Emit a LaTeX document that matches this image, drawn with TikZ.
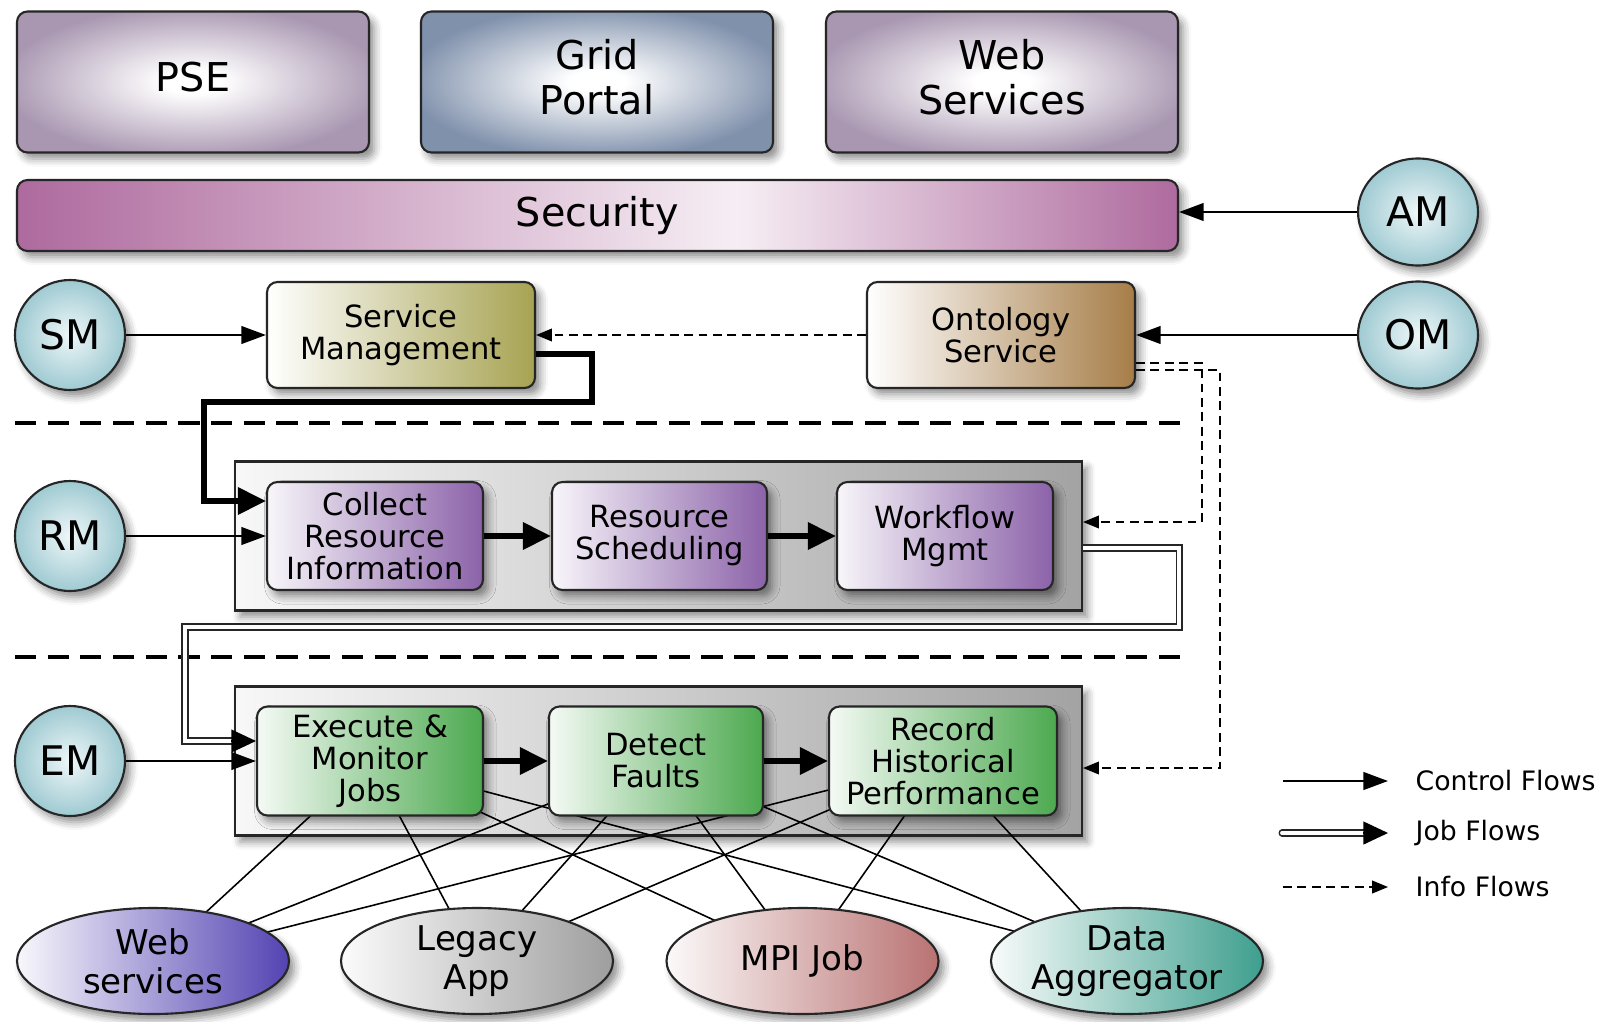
\documentclass[tikz,border=0pt]{standalone}
\usepackage{fontspec}
\setmainfont{DejaVu Sans}
\usetikzlibrary{arrows.meta,shapes.geometric,shadows.blur}

\definecolor{pseout}{HTML}{A997B1}
\definecolor{gridout}{HTML}{8091AC}
\definecolor{secend}{HTML}{AE6A9E}
\definecolor{secmid}{HTML}{F6EEF4}
\definecolor{mgrin}{HTML}{EEF7F8}
\definecolor{mgrout}{HTML}{9FCAD2}
\definecolor{svcend}{HTML}{A7A352}
\definecolor{ontoend}{HTML}{A67D47}
\definecolor{rmend}{HTML}{8B62A9}
\definecolor{emend}{HTML}{4CA94F}
\definecolor{laneend}{HTML}{A3A3A3}
\definecolor{wsend}{HTML}{5343B2}
\definecolor{legacyend}{HTML}{9E9E9E}
\definecolor{mpiend}{HTML}{B97272}
\definecolor{aggend}{HTML}{3E9F8E}

\pgfdeclareradialshading{pseglow}{\pgfpoint{0bp}{0bp}}{color(0bp)=(white);
  color(4bp)=(white); color(27bp)=(pseout); color(50bp)=(pseout)}
\pgfdeclareradialshading{gridglow}{\pgfpoint{0bp}{0bp}}{color(0bp)=(white);
  color(4bp)=(white); color(27bp)=(gridout); color(50bp)=(gridout)}
\pgfdeclarehorizontalshading{secshade}{100bp}{color(0bp)=(secend);
  color(25bp)=(secend); color(56bp)=(secmid); color(75bp)=(secend);
  color(100bp)=(secend)}

\newcommand\topfnt{\fontsize{11.3}{12.8}\selectfont}
\newcommand\boxfnt{\fontsize{8.7}{9.1}\selectfont}
\newcommand\appfnt{\fontsize{9.7}{11.1}\selectfont}
\newcommand\mgrfnt{\fontsize{11.6}{13}\selectfont}
\newcommand\keyfnt{\fontsize{7.6}{9}\selectfont}

\begin{document}
\begin{tikzpicture}[
  softshadow/.style={blur shadow={shadow xshift=1.5pt,shadow yshift=-1.8pt,
      shadow blur radius=2.2pt,shadow opacity=45}},
  topbox/.style={draw=black!85,line width=.6pt,rounded corners=3pt,
      minimum width=3.52cm,minimum height=1.41cm,align=center,font=\topfnt,
      text depth=.1cm,shade,softshadow},
  secbar/.style={draw=black!85,line width=.6pt,rounded corners=3pt,
      minimum width=11.61cm,minimum height=.71cm,font=\topfnt,
      shade,shading=secshade,softshadow},
  mgr/.style={ellipse,draw=black!85,line width=.6pt,inner sep=0pt,
      minimum width=1.10cm,minimum height=1.10cm,font=\mgrfnt,
      inner color=mgrin,outer color=mgrout,softshadow},
  svcbox/.style={draw=black!85,line width=.6pt,rounded corners=3pt,
      minimum width=2.68cm,minimum height=1.06cm,align=center,font=\boxfnt,
      left color=white,softshadow},
  stepbox/.style={draw=black!85,line width=.6pt,rounded corners=3pt,
      inner sep=1pt,minimum height=1.08cm,align=center,font=\boxfnt,softshadow},
  lane/.style={draw=black!85,line width=.6pt,minimum width=8.47cm,
      minimum height=1.49cm,left color=black!3,right color=laneend,softshadow},
  app/.style={ellipse,draw=black!85,line width=.6pt,inner sep=0pt,
      minimum width=2.72cm,minimum height=1.06cm,align=center,font=\appfnt,
      softshadow},
  ctrl/.style={line width=.7pt,-{Triangle[length=7pt,width=5pt]}},
  bigflow/.style={line width=1.6pt,-{Triangle[length=8pt,width=7.5pt]}},
  jobflow/.style={draw=black!85,line width=.45pt,double=white,
      double distance=1.1pt,shorten >=6pt},
  jobtip/.style={line width=.4pt,-{Triangle[length=7pt,width=6.5pt]}},
  info/.style={line width=.45pt,dash pattern=on 2.5pt off 1.6pt,
      -{Triangle[length=4.5pt,width=3.6pt]}},
  layerline/.style={line width=1.1pt,dash pattern=on 6pt off 3.3pt},
  meshline/.style={line width=.45pt},
  keytext/.style={anchor=west,font=\keyfnt,inner sep=0pt}]

\useasboundingbox (0,0) rectangle (16.03,10.21);

% access layer
\node[topbox,shading=pseglow] (pse) at (1.93,9.39) {PSE};
\node[topbox,shading=gridglow] (portal) at (5.97,9.39) {Grid\\Portal};
\node[topbox,shading=pseglow] (websvc) at (10.02,9.39) {Web\\Services};
\node[secbar] (sec) at (5.975,8.055) {Security};

% managers
\node[mgr,minimum width=1.20cm,minimum height=1.07cm] (am) at (14.18,8.09) {AM};
\node[mgr,minimum width=1.20cm,minimum height=1.07cm] (om) at (14.18,6.86) {OM};
\node[mgr] (sm) at (0.70,6.86) {SM};
\node[mgr] (rm) at (0.70,4.85) {RM};
\node[mgr] (em) at (0.70,2.60) {EM};

\node[svcbox,right color=svcend] (svc) at (4.01,6.86) {Service\\Management};
\node[svcbox,right color=ontoend] (onto) at (10.01,6.86) {Ontology\\Service};

\draw[layerline] (0.15,5.98) -- (11.81,5.98);
\draw[layerline] (0.15,3.64) -- (11.81,3.64);

% process lanes
\node[lane] (rmlane) at (6.585,4.85) {};
\node[lane] (emlane) at (6.585,2.60) {};

% every execution step talks to every application
\coordinate (execpt) at (3.70,2.60);
\coordinate (detectpt) at (6.56,2.60);
\coordinate (recordpt) at (9.43,2.60);
\coordinate (websrvpt) at (1.53,0.60);
\coordinate (legacypt) at (4.77,0.60);
\coordinate (mpipt) at (8.025,0.60);
\coordinate (aggrpt) at (11.27,0.60);
\foreach \s in {exec,detect,record}
  \foreach \t in {websrv,legacy,mpi,aggr}
    \draw[meshline] (\s pt) -- (\t pt);

\node[stepbox,left color=white!94!rmend,right color=rmend,minimum width=2.16cm]
  (collect) at (3.75,4.85) {Collect\\Resource\\Information};
\node[stepbox,left color=white!94!rmend,right color=rmend,minimum width=2.15cm]
  (sched) at (6.595,4.85) {Resource\\Scheduling};
\node[stepbox,left color=white!94!rmend,right color=rmend,minimum width=2.16cm]
  (wflow) at (9.45,4.85) {Workflow\\Mgmt};

\node[stepbox,left color=white!94!emend,right color=emend,minimum width=2.26cm,
  minimum height=1.09cm] (exec) at (execpt) {Execute \&\\Monitor\\Jobs};
\node[stepbox,left color=white!94!emend,right color=emend,minimum width=2.14cm,
  minimum height=1.09cm] (detect) at (detectpt) {Detect\\Faults};
\node[stepbox,left color=white!94!emend,right color=emend,minimum width=2.28cm,
  minimum height=1.09cm] (record) at (recordpt) {Record\\Historical\\Performance};

% applications
\node[app,left color=white!96!wsend,right color=wsend] (websrv) at (websrvpt) {Web\\services};
\node[app,left color=white!96!legacyend,right color=legacyend] (legacy) at (legacypt) {Legacy\\App};
\node[app,left color=white!96!mpiend,right color=mpiend] (mpi) at (mpipt) {MPI Job};
\node[app,left color=white!96!aggend,right color=aggend] (aggr) at (aggrpt) {Data\\Aggregator};

% control flows
\draw[ctrl] (am.west) -- (am.west -| sec.east);
\draw[ctrl] (om.west) -- (onto.east);
\draw[ctrl] (sm.east) -- (svc.west);
\draw[ctrl] (rm.east) -- (collect.west);
\draw[ctrl] (em.east) -- (exec.west);
\draw[bigflow] ([yshift=-0.19cm]svc.east) -- ++(0.56,0) |- (2.04,6.19)
  |- ([yshift=0.35cm]collect.west);
\draw[bigflow] (collect.east) -- (sched.west);
\draw[bigflow] (sched.east) -- (wflow.west);
\draw[bigflow] (exec.east) -- (detect.west);
\draw[bigflow] (detect.east) -- (record.west);

% job flow
\draw[jobflow] ([yshift=-0.12cm]rmlane.east) -| (11.79,3.94) -| (1.85,2.80)
  -- ([yshift=0.2cm]exec.west);
\draw[jobtip] ([xshift=-7pt,yshift=0.2cm]exec.west) -- ([yshift=0.2cm]exec.west);

% info flows
\draw[info] (onto.west) -- (svc.east);
\draw[info] ([yshift=-0.28cm]onto.east) -| (12.02,4.99) -- ([yshift=0.14cm]rmlane.east);
\draw[info] ([yshift=-0.35cm]onto.east) -| (12.20,2.53) -- ([yshift=-0.07cm]emlane.east);

% key
\coordinate (kc1) at (12.83,2.40);
\coordinate (kc2) at (13.88,2.40);
\coordinate (kj1) at (12.82,1.88);
\coordinate (kj2) at (13.88,1.88);
\coordinate (ki1) at (12.83,1.34);
\coordinate (ki2) at (13.88,1.34);
\draw[ctrl] (kc1) -- (kc2);
\draw[jobflow,line cap=round] (kj1) -- (kj2);
\draw[jobtip] ([xshift=-7pt]kj2) -- (kj2);
\draw[info] (ki1) -- (ki2);
\node[keytext] (kctrl) at (14.15,2.40) {Control Flows};
\node[keytext] (kjob) at (14.15,1.88) {Job Flows};
\node[keytext] (kinfo) at (14.15,1.34) {Info Flows};
\end{tikzpicture}
\end{document}
